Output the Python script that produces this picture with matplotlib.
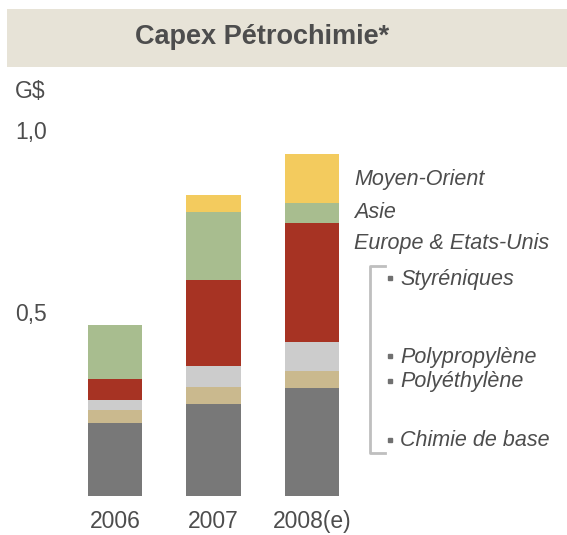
import matplotlib
matplotlib.use("Agg")
import matplotlib.pyplot as plt
from matplotlib.patches import Rectangle
from matplotlib.lines import Line2D
import numpy as np

plt.rcParams['font.family'] = ['Liberation Sans', 'DejaVu Sans']

# Data (G$)
years = ["2006", "2007", "2008(e)"]
chimie_de_base = [0.200, 0.252, 0.296]
polyethylene = [0.036, 0.047, 0.047]
polypropylene = [0.027, 0.058, 0.079]
styreniques = [0.058, 0.236, 0.326]
asie = [0.148, 0.184, 0.055]
moyen_orient = [0.0, 0.047, 0.134]

series = [chimie_de_base, polyethylene, polypropylene, styreniques, asie, moyen_orient]
colors = ["#787878", "#CAB98E", "#CCCCCC", "#A73323", "#A8BD8F", "#F3CB5E"]

W, H = 567, 535
fig = plt.figure(figsize=(W / 100, H / 100), dpi=100)

def fx(px):
    return px / W

def fy(py):
    return (H - py) / H

txt = "#4D4D4D"

# Title banner
fig.patches.append(Rectangle((fx(7), fy(67)), fx(567) - fx(7), fy(9) - fy(67),
                             transform=fig.transFigure, facecolor="#E7E3D7",
                             edgecolor="none", zorder=0))
fig.text(fx(262), fy(37), "Capex Pétrochimie*", ha="center", va="center",
         fontsize=19.5, fontweight="bold", color=txt)

# Axes
left_px, right_px, top_px, bot_px = 60, 360, 131, 496
ax = fig.add_axes([fx(left_px), fy(bot_px), fx(right_px) - fx(left_px), fy(top_px) - fy(bot_px)])
x = np.arange(len(years))
bottom = np.zeros(len(years))
for vals, c in zip(series, colors):
    ax.bar(x, vals, width=0.55, bottom=bottom, color=c, edgecolor="none")
    bottom += np.array(vals)

ax.set_ylim(0, 1.0)
ax.set_xlim(-(115 - left_px) / 98.5, (right_px - 115) / 98.5)
for s in ax.spines.values():
    s.set_visible(False)
ax.set_yticks([])
ax.set_xticks(x)
ax.set_xticklabels(years, fontsize=16.5, color=txt)
ax.tick_params(axis="x", length=0, pad=10)
ax.patch.set_alpha(0)

# Y labels
fig.text(fx(15), fy(92), "G$", ha="left", va="center", fontsize=16.5, color=txt)
fig.text(fx(15), fy(132), "1,0", ha="left", va="center", fontsize=16.5, color=txt)
fig.text(fx(15), fy(315), "0,5", ha="left", va="center", fontsize=16.5, color=txt)

# Legend labels
for label, py in [("Moyen-Orient", 180), ("Asie", 213), ("Europe & Etats-Unis", 244)]:
    fig.text(fx(354), fy(py), label, ha="left", va="center", fontsize=15.5,
             style="italic", color=txt)

# Bracket
bcol = "#BFBFBF"
fig.lines.append(Line2D([fx(385), fx(370), fx(370), fx(385)],
                        [fy(266), fy(266), fy(453), fy(453)],
                        transform=fig.transFigure, color=bcol, lw=2))

for label, py in [("Styréniques", 279), ("Polypropylène", 357), ("Polyéthylène", 382),
                  ("Chimie de base", 441)]:
    fig.lines.append(Line2D([fx(390)], [fy(py - 1)], transform=fig.transFigure,
                            marker="s", markersize=3.5, color="#707070", linestyle="none"))
    fig.text(fx(400), fy(py), label, ha="left", va="center", fontsize=15.5,
             style="italic", color=txt)

fig.savefig("out.png", dpi=100)
